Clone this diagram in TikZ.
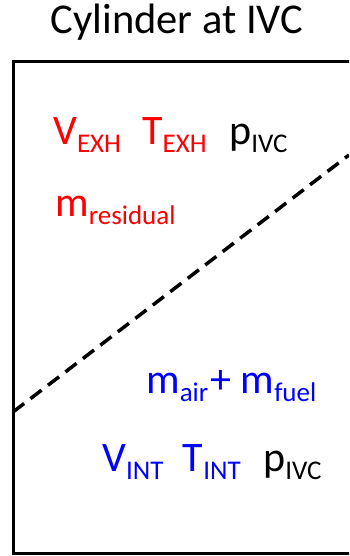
\documentclass[tikz,border=0pt]{standalone}
\usepackage{fontspec}
\setmainfont{Carlito}
\definecolor{myred}{RGB}{255,0,0}
\definecolor{myblue}{RGB}{0,0,255}
\newcommand{\mysub}[1]{\lower8pt\hbox{\fontsize{27}{27}\selectfont #1}}
\tikzset{
  lbl/.style={anchor=base west, inner sep=0pt, font=\fontsize{42}{42}\selectfont},
  ttl/.style={anchor=base, inner sep=0pt, font=\fontsize{42.5}{42.5}\selectfont},
  wall/.style={line width=3pt},
  border/.style={line width=3.5pt, dash pattern=on 14pt off 8pt}
}
\begin{document}
\begin{tikzpicture}[x=1pt,y=-1pt]
\useasboundingbox (0,0) rectangle (349,556);
\clip (0,0) rectangle (349,556);
\node[ttl] (title) at (177,34) {Cylinder at IVC};
\coordinate (tl) at (13,62);
\coordinate (tr) at (360,62);
\coordinate (bl) at (13,553);
\coordinate (br) at (360,553);
\draw[wall] (tr) -- (tl) -- (bl) -- (br);
\coordinate (dl) at (13,412);
\coordinate (dr) at (349,155);
\draw[border] (dl) -- (dr);
\node[lbl, text=myred] (vexh) at (53,144.5) {V\mysub{EXH}};
\node[lbl, text=myred] (texh) at (142,144.5) {T\mysub{EXH}};
\node[lbl] (pivc1) at (229,144.5) {p\mysub{IVC}};
\node[lbl, text=myred] (mres) at (55,216.7) {m\mysub{residual}};
\node[lbl, text=myblue] (mair) at (146,393.3) {m\mysub{air}\kern2pt+ m\mysub{fuel}};
\node[lbl, text=myblue] (vint) at (102,471.7) {V\mysub{INT}};
\node[lbl, text=myblue] (tint) at (182.7,471.7) {T\mysub{INT}};
\node[lbl] (pivc2) at (263,471.7) {p\mysub{IVC}};
\end{tikzpicture}
\end{document}
